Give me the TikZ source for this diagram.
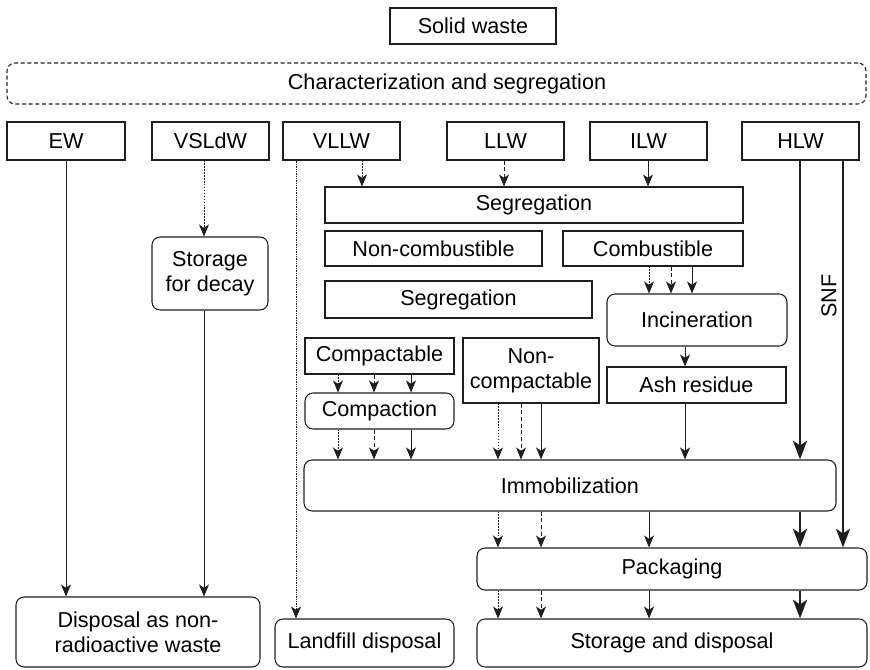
\documentclass[tikz,border=0pt]{standalone}
\usepackage{fontspec}
\setmainfont{Liberation Sans}
\usetikzlibrary{arrows.meta}
\definecolor{ink}{RGB}{30,30,30}
\tikzset{
  txt/.style={font=\fontsize{16.2pt}{19pt}\selectfont, text=black, align=center, inner sep=0pt},
  box/.style={txt, draw=ink, line width=0.8pt},
  sized/.style n args={2}{minimum width=#1*0.75pt, minimum height=#2*0.75pt},
  rbox/.style={box, rounded corners=6pt},
  dbox/.style={rbox, dash pattern=on 3pt off 2pt},
  flow/.style={draw=ink, line width=0.75pt, -{Stealth[length=9pt,width=7.5pt,inset=2.5pt]}},
  dotflow/.style={flow, dash pattern=on 1.1pt off 1.1pt},
  dashflow/.style={flow, dash pattern=on 3pt off 2pt},
  heavyflow/.style={draw=ink, line width=1.7pt, -{Stealth[length=14pt,width=10.5pt,inset=3.5pt]}},
  fineflow/.style={flow, line width=0.6pt, dash pattern=on 0.5pt off 0.8pt},
}
\begin{document}
\begin{tikzpicture}[x=0.75pt,y=-0.75pt]
\useasboundingbox (0,0) rectangle (870,670);

% top of the chart
\node[box,  sized={166}{36}] (sw) at (473,26) {Solid waste};
\node[dbox, sized={859}{41}] (cs) at (436.5,83.5) {};
\node[txt] (cstext) at (447,83.5) {Characterization and segregation};

% waste classes
\node[box, sized={118}{38}] (ew)   at (66,141)    {EW};
\node[box, sized={117}{38}] (vsl)  at (210.5,141) {VSLdW};
\node[box, sized={117}{38}] (vllw) at (341.5,141) {VLLW};
\node[box, sized={117}{38}] (llw)  at (505.5,141) {LLW};
\node[box, sized={117}{38}] (ilw)  at (648.5,141) {ILW};
\node[box, sized={117}{38}] (hlw)  at (800.5,141) {HLW};

% treatment steps
\node[box,  sized={418}{36}] (seg)   at (534,205)     {Segregation};
\node[box,  sized={217}{35}] (ncomb) at (433.5,248.5) {Non-combustible};
\node[box,  sized={180}{35}] (comb)  at (653,248.5)   {Combustible};
\node[box,  sized={267}{37}] (seg2)  at (458.5,299.5) {Segregation};
\node[rbox, sized={180}{52}] (inc)   at (697,320)     {Incineration};
\node[box,  sized={149}{36}] (cpt)   at (379.5,356)   {Compactable};
\node[rbox, sized={149}{36}] (cpn)   at (379.5,411)   {Compaction};
\node[box,  sized={136}{65}] (ncpt)  at (531,370.5)   {Non-\\compactable};
\node[box,  sized={179}{36}] (ash)   at (696.5,385)   {Ash residue};
\node[rbox, sized={116}{73}] (sfd)   at (210,273.5)   {Storage\\for decay};
\node[rbox, sized={532}{51}] (imm)   at (570,485.5)   {Immobilization};
\node[rbox, sized={390}{42}] (pak)   at (672,569)     {Packaging};

% end points
\node[rbox, sized={244}{70}] (dnr) at (138,632)   {Disposal as non-\\radioactive waste};
\node[rbox, sized={179}{48}] (lfd) at (364.5,643) {Landfill disposal};
\node[rbox, sized={390}{48}] (sad) at (672,643)   {Storage and disposal};

% column positions of the connectors
\foreach \n/\x in {cEW/66, cVS/204, cVL/296, cA/338, cVA/362, cB/374, cC/411,
                   cD/498, cL/504, cE/521, cF/541, cI/648, cG/649, cH/671,
                   cAsh/685, cJ/692, cHL/800, cSN/843}
  \coordinate (\n) at (\x,0);

% left branch
\draw[flow]     (ew.south -| cEW) -- (dnr.north -| cEW);
\draw[dotflow]  (vsl.south -| cVS) -- (sfd.north -| cVS);
\draw[flow]     (sfd.south -| cVS) -- (dnr.north -| cVS);
\draw[fineflow] (vllw.south -| cVL) -- (lfd.north -| cVL);

% into segregation
\draw[dotflow]  (vllw.south -| cVA) -- (seg.north -| cVA);
\draw[dashflow] (llw.south -| cL)   -- (seg.north -| cL);
\draw[flow]     (ilw.south -| cI)   -- (seg.north -| cI);

% combustible route
\draw[dotflow]  (comb.south -| cG) -- (inc.north -| cG);
\draw[dashflow] (comb.south -| cH) -- (inc.north -| cH);
\draw[flow]     (comb.south -| cJ) -- (inc.north -| cJ);
\draw[flow]     (inc.south -| cAsh) -- (ash.north -| cAsh);
\draw[flow]     (ash.south -| cAsh) -- (imm.north -| cAsh);

% compaction route
\draw[dotflow]  (cpt.south -| cA) -- (cpn.north -| cA);
\draw[dashflow] (cpt.south -| cB) -- (cpn.north -| cB);
\draw[flow]     (cpt.south -| cC) -- (cpn.north -| cC);
\draw[dotflow]  (cpn.south -| cA) -- (imm.north -| cA);
\draw[dashflow] (cpn.south -| cB) -- (imm.north -| cB);
\draw[flow]     (cpn.south -| cC) -- (imm.north -| cC);
\draw[dotflow]  (ncpt.south -| cD) -- (imm.north -| cD);
\draw[dashflow] (ncpt.south -| cE) -- (imm.north -| cE);
\draw[flow]     (ncpt.south -| cF) -- (imm.north -| cF);

% high level waste and spent fuel
\draw[heavyflow] (hlw.south -| cHL) -- (imm.north -| cHL);
\draw[heavyflow] (hlw.south -| cSN) -- (pak.north -| cSN)
  node[txt, pos=0.35, rotate=90, anchor=south, yshift=4pt] (snf) {SNF};

% packaging and final disposal
\draw[dotflow]   (imm.south -| cD)  -- (pak.north -| cD);
\draw[dashflow]  (imm.south -| cF)  -- (pak.north -| cF);
\draw[flow]      (imm.south -| cG)  -- (pak.north -| cG);
\draw[heavyflow] (imm.south -| cHL) -- (pak.north -| cHL);
\draw[dotflow]   (pak.south -| cD)  -- (sad.north -| cD);
\draw[dashflow]  (pak.south -| cF)  -- (sad.north -| cF);
\draw[flow]      (pak.south -| cG)  -- (sad.north -| cG);
\draw[heavyflow] (pak.south -| cHL) -- (sad.north -| cHL);
\end{tikzpicture}
\end{document}
